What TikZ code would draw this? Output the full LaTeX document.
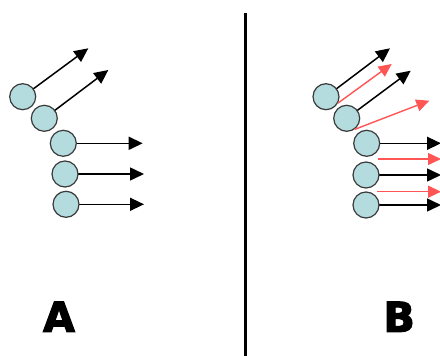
\documentclass[tikz,border=0pt]{standalone}
\usepackage{fontspec}
\usetikzlibrary{arrows.meta}
\newfontfamily\heavyfont[FakeBold=3]{DejaVu Sans Bold}
\definecolor{ballfill}{HTML}{B4DCDF}
\definecolor{balledge}{HTML}{3A3A3A}
\definecolor{redarrow}{HTML}{FF5555}
\tikzset{
  ball/.style={circle, draw=balledge, line width=1.2pt, fill=ballfill,
               minimum size=26pt, inner sep=0pt},
  blackarrow/.style={line width=1.5pt, -{Triangle[length=14pt,width=13pt]}},
  redarr/.style={draw=redarrow, line width=1.4pt,
                 -{Triangle[length=13pt,width=12pt]}, redarrow},
  biglabel/.style={font=\heavyfont\fontsize{41}{41}\selectfont, inner sep=0pt, anchor=base}
}
\begin{document}
\begin{tikzpicture}[x=1pt,y=-1pt]
\useasboundingbox (0,0) rectangle (440,356);

% divider
\draw[line width=3pt] (245.7,13) coordinate (dtop) -- (245.7,360) coordinate (dbot);

% ---- panel A ----
\coordinate (ta1) at (88.3,48.3);
\coordinate (ta2) at (108.3,70);
\coordinate (ta3) at (142.7,143.3);
\coordinate (ta4) at (144,174);
\coordinate (ta5) at (144,204.3);
\draw[blackarrow] (22.7,96.7) -- (ta1);
\draw[blackarrow] (44.3,118.3) -- (ta2);
\draw[blackarrow] (63.3,143.3) -- (ta3);
\draw[blackarrow] (65,174) -- (ta4);
\draw[blackarrow] (66,204.3) -- (ta5);
\node[ball] (a1) at (22.7,96.7) {};
\node[ball] (a2) at (44.3,118.3) {};
\node[ball] (a3) at (63.3,143.3) {};
\node[ball] (a4) at (65,174) {};
\node[ball] (a5) at (66,204.3) {};

\node[biglabel] (labA) at (59,331.7) {A};

% ---- panel B ----
\coordinate (tb1) at (390,48.3);
\coordinate (tb2) at (410.7,70.7);
\coordinate (tb3) at (441,143.3);
\coordinate (tb4) at (441,175);
\coordinate (tb5) at (441,205);
\coordinate (tr1) at (391.7,64);
\coordinate (tr2) at (429.3,100.7);
\coordinate (sr3) at (378.3,159);
\coordinate (tr3) at (441,159);
\coordinate (sr4) at (377.3,191.7);
\coordinate (tr4) at (441,191.7);

\draw[blackarrow] (326,96.7) -- (tb1);
\draw[blackarrow] (346.7,118.3) -- (tb2);
\draw[blackarrow] (366.7,143.3) -- (tb3);
\draw[blackarrow] (366,175) -- (tb4);
\draw[blackarrow] (366,205) -- (tb5);
\node[ball] (b1) at (326,96.7) {};
\node[ball] (b2) at (346.7,118.3) {};
\node[ball] (b3) at (366.7,143.3) {};
\node[ball] (b4) at (366,175) {};
\node[ball] (b5) at (366,205) {};

\draw[redarr] (b1.-28) -- (tr1);
\draw[redarr] (b2.-55) -- (tr2);
\draw[redarr] (sr3) -- (tr3);
\draw[redarr] (sr4) -- (tr4);

\node[biglabel] (labB) at (399.2,331.7) {B};
\end{tikzpicture}
\end{document}
